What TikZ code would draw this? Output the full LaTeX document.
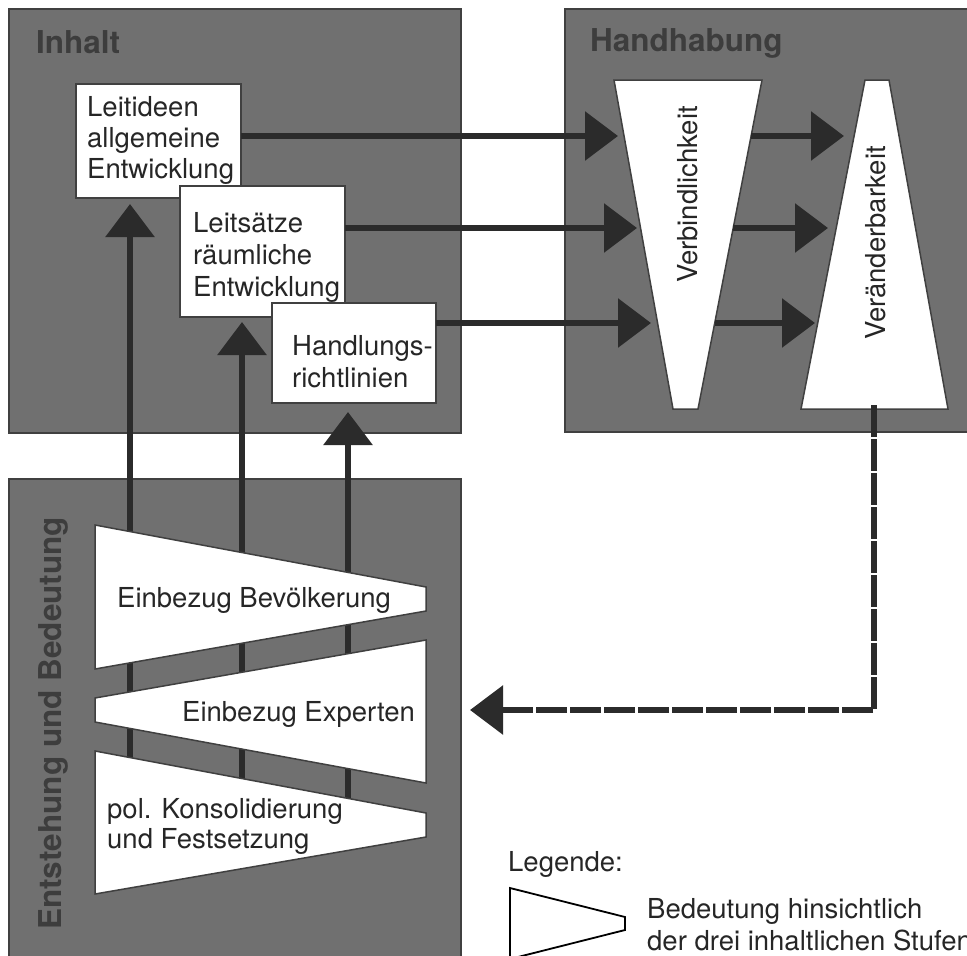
\documentclass[tikz,border=0pt]{standalone}
\usepackage{fontspec}
\setmainfont{TeX Gyre Heros}
\usetikzlibrary{arrows.meta}
\definecolor{panelc}{gray}{0.44}
\definecolor{panelborder}{gray}{0.25}
\definecolor{titlec}{gray}{0.24}
\definecolor{arrowc}{gray}{0.17}
\definecolor{textc}{gray}{0.15}
\tikzset{
  panel/.style={fill=panelc, draw=panelborder, line width=1.5pt, inner sep=0pt, outer sep=0pt, anchor=north west},
  wbox/.style={fill=white, draw=panelborder, line width=1.5pt, inner sep=0pt, outer sep=0pt, anchor=north west},
  txt/.style={font=\fontsize{27.5}{31}\selectfont, text=textc, inner sep=0pt, anchor=base west},
  title/.style={font=\fontsize{31.5}{36}\selectfont\bfseries, text=titlec, inner sep=0pt, anchor=base west},
  arr/.style={draw=arrowc, line width=6pt, -{Triangle[length=33pt,width=48pt]}},
  dashedarr/.style={arr, dash pattern=on 31.5pt off 2.5pt, line join=miter},
  trap/.style={fill=white, draw=panelborder, line width=1.5pt},
  legtrap/.style={fill=white, draw=black, line width=1.8pt},
}
\begin{document}
\begin{tikzpicture}[x=1pt,y=-1pt]
\useasboundingbox (0,0) rectangle (967,956);
% panels
\node[panel, minimum width=452pt, minimum height=424pt] (inhalt) at (9,9) {};
\node[panel, minimum width=420pt, minimum height=423pt] (handh) at (565,9) {};
\node[panel, minimum width=452pt, minimum height=500pt] (entst) at (9,479) {};
\node[title] (tinh) at (36,53) {Inhalt};
\node[title] (thand) at (590,51) {Handhabung};
\node[title, rotate=90] (tent) at (61,930) {Entstehung und Bedeutung};
% white boxes
\node[wbox, minimum width=165pt, minimum height=114pt] (lei) at (76,84) {};
\node[wbox, minimum width=165pt, minimum height=131pt] (lsa) at (180,186) {};
\node[wbox, minimum width=164pt, minimum height=100pt] (han) at (272,303) {};
\node[txt] (l1) at (87,116) {Leitideen};
\node[txt] (l2) at (87,147) {allgemeine};
\node[txt] (l3) at (87,178) {Entwicklung};
\node[txt] (s1) at (193,232) {Leitsätze};
\node[txt] (s2) at (193,264) {räumliche};
\node[txt] (s3) at (193,296) {Entwicklung};
\node[txt] (h1) at (292,355) {Handlungs-};
\node[txt] (h2) at (292,387) {richtlinien};
% Handhabung trapezoids
\draw[trap] (614,80) -- (762,80) -- (698,409) -- (673,409) -- cycle;
\draw[trap] (865,80) -- (889,80) -- (948,409) -- (801,409) -- cycle;
\node[txt, rotate=90] (verb) at (697,283) {Verbindlichkeit};
\node[txt, rotate=90] (veraend) at (885,340) {Veränderbarkeit};
% horizontal arrows
\coordinate (a1) at (618,136);
\coordinate (a2) at (637,228);
\coordinate (a3) at (651,323);
\draw[arr] (lei.east |- a1) -- (a1);
\draw[arr] (lsa.east |- a2) -- (a2);
\draw[arr] (han.east |- a3) -- (a3);
\coordinate (b1s) at (751,136);
\coordinate (b2s) at (733,228);
\coordinate (b3s) at (715,323);
\coordinate (b1) at (844,136);
\coordinate (b2) at (828,228);
\coordinate (b3) at (815,323);
\draw[arr] (b1s) -- (b1);
\draw[arr] (b2s) -- (b2);
\draw[arr] (b3s) -- (b3);
% dashed feedback
\coordinate (d0) at (874,405);
\coordinate (d1) at (874,710);
\coordinate (d2) at (470,710);
\draw[dashedarr] (d0) -- (d1) -- (d2);
% vertical arrows
\coordinate (u1s) at (130,825);
\coordinate (u2s) at (242,825);
\coordinate (u3s) at (348,825);
\coordinate (u1) at (130,204);
\coordinate (u2) at (242,322);
\coordinate (u3) at (348,412);
\draw[arr] (u1s) -- (u1);
\draw[arr] (u2s) -- (u2);
\draw[arr] (u3s) -- (u3);
% Entstehung trapezoids
\draw[trap] (95,525) -- (426,587) -- (426,611) -- (95,669) -- cycle;
\draw[trap] (95,698) -- (426,640) -- (426,783) -- (95,722) -- cycle;
\draw[trap] (95,751) -- (426,813) -- (426,837) -- (95,894) -- cycle;
\node[txt] (e1) at (117,607) {Einbezug Bevölkerung};
\node[txt] (e2) at (182,721) {Einbezug Experten};
\node[txt] (e3) at (107,818) {pol. Konsolidierung};
\node[txt] (e4) at (107,848) {und Festsetzung};
% legend
\node[txt] (leg) at (508,871) {Legende:};
\draw[legtrap] (510,888) -- (625,917) -- (625,930) -- (510,959) -- cycle;
\node[txt] (lg1) at (647,918) {Bedeutung hinsichtlich};
\node[txt] (lg2) at (647,950) {der drei inhaltlichen Stufen};
\end{tikzpicture}
\end{document}
